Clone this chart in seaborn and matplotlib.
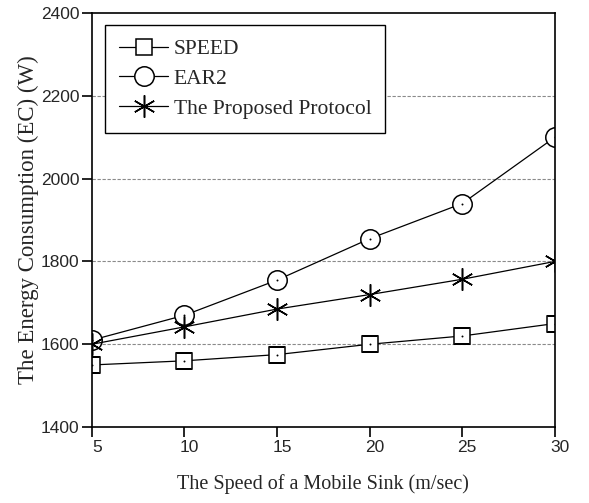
import matplotlib
matplotlib.use("Agg")
import matplotlib.pyplot as plt
import matplotlib.transforms as mtransforms
from matplotlib.path import Path
import seaborn as sns
import pandas as pd

speeds = [5, 10, 15, 20, 25, 30]
speed_ec = [1550, 1560, 1575, 1600, 1620, 1650]
ear2_ec = [1610, 1670, 1755, 1855, 1940, 2100]
proposed_ec = [1600, 1642, 1685, 1720, 1757, 1800]
series_names = ["SPEED", "EAR2", "The Proposed Protocol"]

sns.set_theme(style="white")
plt.rcParams["font.family"] = ["Liberation Serif", "DejaVu Serif"]

fig = plt.figure(figsize=(5.89, 5.03), dpi=100)
ax = fig.add_axes([0.156, 0.151, 0.786, 0.823])

styles = [
    dict(marker="s", markersize=12, dot=True),
    dict(marker="o", markersize=14, dot=True),
    dict(marker=(6, 2, 0), markersize=16, dot=False),
]

for name, vals, st in zip(series_names, [speed_ec, ear2_ec, proposed_ec], styles):
    df = pd.DataFrame({"speed": speeds, "ec": vals})
    sns.lineplot(data=df, x="speed", y="ec", ax=ax, color="black", linewidth=0.9,
                 marker=st["marker"], markersize=st["markersize"],
                 markerfacecolor="white", markeredgecolor="black",
                 markeredgewidth=1.1, label=name)
    if st["dot"]:
        sns.scatterplot(data=df, x="speed", y="ec", ax=ax, marker="o", s=2,
                        color="black", linewidth=0, zorder=4, legend=False)

ax.set_xlim(5, 30)
ax.set_ylim(1400, 2400)

# cut markers that sit on the frame at the edge of the plotting area
frame_path = Path([(0, 0), (1, 0), (1, 1), (0, 1), (0, 0)], closed=True)
for art in list(ax.collections) + list(ax.get_lines()):
    art.set_clip_path(frame_path, ax.transAxes)

leg = ax.legend(loc="upper left", bbox_to_anchor=(0.028, 0.971), fontsize=15.5,
                frameon=True, fancybox=False, edgecolor="black", framealpha=1,
                handlelength=2.3, handletextpad=0.25, labelspacing=0.45,
                borderpad=0.65, borderaxespad=0.0)
leg.get_frame().set_linewidth(1.0)
leg.set_zorder(5)

ax.set_xticks(speeds)
ax.set_yticks([1400, 1600, 1800, 2000, 2200, 2400])
for y in [1600, 1800, 2000, 2200]:
    ax.axhline(y, color="#8a8a8a", linestyle=(0, (3, 1.5)), linewidth=0.8, zorder=0)

for side in ["left", "bottom", "right", "top"]:
    ax.spines[side].set_visible(True)
    ax.spines[side].set_color("black")
    ax.spines[side].set_linewidth(1.2)
    ax.spines[side].set_zorder(6)

ax.tick_params(axis="both", which="both", direction="out", length=7, width=1.2,
               color="black", labelsize=12.5, pad=2)
ax.tick_params(axis="x", bottom=True, top=False)
ax.tick_params(axis="y", left=True, right=False)
shift = mtransforms.ScaledTranslation(0.05, 0, fig.dpi_scale_trans)
for lbl in ax.get_xticklabels():
    lbl.set_family(["Liberation Sans", "DejaVu Sans"])
    lbl.set_transform(lbl.get_transform() + shift)
for lbl in ax.get_yticklabels():
    lbl.set_family(["Liberation Sans", "DejaVu Sans"])

ax.set_xlabel("The Speed of a Mobile Sink (m/sec)", fontsize=14.5, labelpad=14)
ax.set_ylabel("The Energy Consumption (EC) (W)", fontsize=16.5, labelpad=1)

fig.savefig("out.png", dpi=100)
